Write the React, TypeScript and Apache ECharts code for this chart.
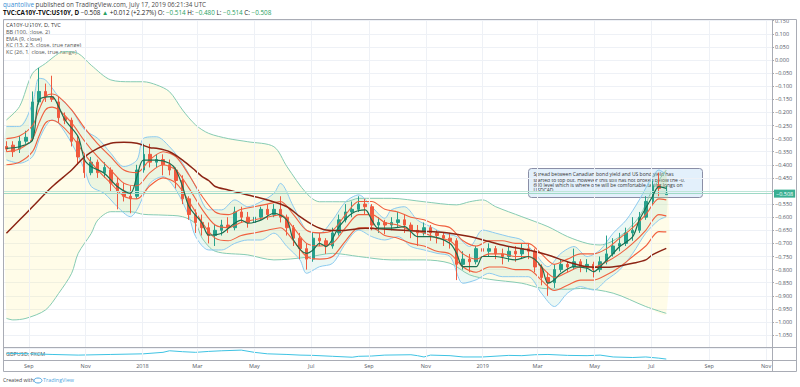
import React, { useEffect, useRef } from "react";
import * as echarts from "echarts";

// Weekly sample dates (last one is the final daily bar)
const weeks = [
  "2017-08-08","2017-08-15","2017-08-22","2017-08-29","2017-09-05","2017-09-12","2017-09-19","2017-09-26","2017-10-03","2017-10-10","2017-10-17","2017-10-24","2017-10-31","2017-11-07","2017-11-14","2017-11-21","2017-11-28","2017-12-05","2017-12-12","2017-12-19","2017-12-26",
  "2018-01-02","2018-01-09","2018-01-16","2018-01-23","2018-01-30","2018-02-06","2018-02-13","2018-02-20","2018-02-27","2018-03-06","2018-03-13","2018-03-20","2018-03-27","2018-04-03","2018-04-10","2018-04-17","2018-04-24","2018-05-01","2018-05-08","2018-05-15","2018-05-22","2018-05-29","2018-06-05","2018-06-12","2018-06-19","2018-06-26","2018-07-03","2018-07-10","2018-07-17","2018-07-24","2018-07-31","2018-08-07","2018-08-14","2018-08-21","2018-08-28","2018-09-04","2018-09-11","2018-09-18","2018-09-25","2018-10-02","2018-10-09","2018-10-16","2018-10-23","2018-10-30","2018-11-06","2018-11-13","2018-11-20","2018-11-27","2018-12-04","2018-12-11","2018-12-18","2018-12-25",
  "2019-01-01","2019-01-08","2019-01-15","2019-01-22","2019-01-29","2019-02-05","2019-02-12","2019-02-19","2019-02-26","2019-03-05","2019-03-12","2019-03-19","2019-03-26","2019-04-02","2019-04-09","2019-04-16","2019-04-23","2019-04-30","2019-05-07","2019-05-14","2019-05-21","2019-05-28","2019-06-04","2019-06-11","2019-06-18","2019-06-25","2019-07-02","2019-07-09","2019-07-17",
];

// [open, close, low, high]
const candles: number[][] = [
  [-0.33,-0.34,-0.35,-0.31],[-0.325,-0.35,-0.37,-0.31],[-0.34,-0.31,-0.355,-0.29],[-0.31,-0.295,-0.32,-0.27],[-0.30,-0.16,-0.31,-0.12],
  [-0.16,-0.12,-0.17,-0.03],[-0.12,-0.14,-0.16,-0.09],[-0.14,-0.15,-0.16,-0.06],[-0.16,-0.22,-0.24,-0.14],[-0.22,-0.23,-0.245,-0.20],
  [-0.23,-0.31,-0.33,-0.22],[-0.31,-0.37,-0.40,-0.29],[-0.37,-0.43,-0.45,-0.36],[-0.43,-0.39,-0.44,-0.37],[-0.39,-0.43,-0.45,-0.38],
  [-0.43,-0.41,-0.45,-0.39],[-0.42,-0.47,-0.50,-0.41],[-0.47,-0.50,-0.57,-0.45],[-0.50,-0.52,-0.54,-0.47],[-0.52,-0.53,-0.585,-0.48],
  [-0.52,-0.42,-0.53,-0.40],[-0.42,-0.36,-0.43,-0.32],[-0.36,-0.39,-0.41,-0.32],[-0.39,-0.38,-0.41,-0.36],[-0.38,-0.40,-0.44,-0.36],
  [-0.40,-0.42,-0.44,-0.38],[-0.42,-0.46,-0.49,-0.41],[-0.46,-0.53,-0.55,-0.44],[-0.53,-0.59,-0.61,-0.52],[-0.59,-0.62,-0.66,-0.57],
  [-0.62,-0.64,-0.67,-0.59],[-0.64,-0.67,-0.70,-0.62],[-0.67,-0.65,-0.71,-0.63],[-0.65,-0.63,-0.67,-0.61],[-0.63,-0.64,-0.66,-0.60],
  [-0.64,-0.58,-0.65,-0.56],[-0.58,-0.60,-0.62,-0.56],[-0.60,-0.62,-0.64,-0.58],[-0.62,-0.60,-0.63,-0.57],[-0.60,-0.57,-0.61,-0.56],
  [-0.57,-0.59,-0.61,-0.55],[-0.59,-0.57,-0.60,-0.55],[-0.57,-0.60,-0.62,-0.52],[-0.60,-0.64,-0.67,-0.59],[-0.64,-0.68,-0.71,-0.63],
  [-0.68,-0.72,-0.76,-0.66],[-0.72,-0.76,-0.80,-0.70],[-0.76,-0.68,-0.77,-0.66],[-0.68,-0.69,-0.71,-0.66],[-0.69,-0.71,-0.74,-0.68],
  [-0.71,-0.66,-0.72,-0.64],[-0.66,-0.61,-0.67,-0.59],[-0.61,-0.58,-0.62,-0.55],[-0.58,-0.57,-0.60,-0.54],[-0.57,-0.55,-0.58,-0.52],
  [-0.55,-0.56,-0.59,-0.53],[-0.56,-0.63,-0.65,-0.55],[-0.63,-0.62,-0.66,-0.60],[-0.62,-0.63,-0.665,-0.61],[-0.63,-0.62,-0.65,-0.60],
  [-0.62,-0.61,-0.64,-0.58],[-0.61,-0.63,-0.66,-0.59],[-0.63,-0.65,-0.68,-0.62],[-0.65,-0.66,-0.71,-0.63],[-0.66,-0.64,-0.67,-0.62],
  [-0.64,-0.66,-0.69,-0.63],[-0.66,-0.67,-0.70,-0.65],[-0.67,-0.68,-0.71,-0.66],[-0.68,-0.69,-0.72,-0.66],[-0.69,-0.78,-0.84,-0.68],
  [-0.78,-0.76,-0.80,-0.73],[-0.76,-0.77,-0.81,-0.74],[-0.77,-0.72,-0.78,-0.71],[-0.72,-0.73,-0.76,-0.70],[-0.73,-0.72,-0.75,-0.70],
  [-0.72,-0.74,-0.76,-0.71],[-0.74,-0.75,-0.78,-0.72],[-0.75,-0.73,-0.77,-0.71],[-0.73,-0.74,-0.77,-0.71],[-0.74,-0.72,-0.76,-0.70],
  [-0.72,-0.73,-0.76,-0.70],[-0.73,-0.79,-0.81,-0.72],[-0.79,-0.83,-0.86,-0.78],[-0.83,-0.85,-0.90,-0.81],[-0.85,-0.80,-0.87,-0.78],
  [-0.80,-0.78,-0.81,-0.76],[-0.78,-0.79,-0.81,-0.77],[-0.79,-0.77,-0.80,-0.72],[-0.77,-0.79,-0.81,-0.76],[-0.79,-0.78,-0.81,-0.76],
  [-0.78,-0.80,-0.83,-0.77],[-0.80,-0.77,-0.81,-0.75],[-0.77,-0.74,-0.78,-0.67],[-0.74,-0.71,-0.75,-0.68],[-0.71,-0.70,-0.73,-0.66],
  [-0.70,-0.66,-0.71,-0.64],[-0.66,-0.65,-0.69,-0.60],[-0.65,-0.60,-0.66,-0.58],[-0.60,-0.54,-0.61,-0.52],[-0.54,-0.48,-0.55,-0.46],
  [-0.48,-0.49,-0.52,-0.43],[-0.514,-0.508,-0.514,-0.48],
];

// Indicator knots: [week index, value]
const bbUpper: number[][] = [[0,-0.229],[2,-0.178],[4,-0.051],[6,-0.013],[8,0.025],[9,0.032],[11,0.025],[13,-0.02],[16,-0.076],[19,-0.083],[21,-0.083],[23,-0.095],[25,-0.121],[27,-0.191],[29,-0.248],[31,-0.280],[34,-0.300],[37,-0.312],[41,-0.331],[43,-0.407],[46,-0.509],[48,-0.541],[52,-0.541],[54,-0.528],[59,-0.528],[64,-0.541],[69,-0.553],[71,-0.541],[73,-0.534],[75,-0.560],[79,-0.598],[83,-0.636],[86,-0.674],[89,-0.700],[91,-0.706],[94,-0.674],[97,-0.598],[99,-0.496],[101,-0.42]];
const bbLower: number[][] = [[0,-0.986],[1,-0.992],[3,-0.986],[6,-0.954],[8,-0.891],[10,-0.814],[11,-0.738],[13,-0.662],[14,-0.611],[16,-0.579],[19,-0.579],[21,-0.589],[24,-0.592],[27,-0.598],[29,-0.625],[30,-0.68],[32,-0.73],[37,-0.744],[41,-0.763],[46,-0.753],[50,-0.738],[54,-0.750],[59,-0.763],[64,-0.763],[68,-0.776],[71,-0.820],[74,-0.837],[79,-0.852],[82,-0.871],[86,-0.875],[88,-0.872],[93,-0.89],[98,-0.941],[101,-0.967]];
const sma100: number[][] = [[0,-0.661],[2,-0.611],[4,-0.560],[7,-0.484],[10,-0.420],[12,-0.369],[14,-0.337],[16,-0.318],[18,-0.314],[20,-0.318],[22,-0.335],[23,-0.337],[25,-0.350],[27,-0.382],[29,-0.423],[30,-0.445],[31,-0.460],[32,-0.483],[34,-0.496],[37,-0.515],[40,-0.534],[43,-0.560],[45,-0.598],[47,-0.630],[49,-0.649],[51,-0.651],[55,-0.642],[60,-0.649],[65,-0.655],[68,-0.661],[71,-0.674],[74,-0.693],[77,-0.712],[80,-0.725],[83,-0.744],[86,-0.770],[89,-0.789],[92,-0.791],[94,-0.786],[96,-0.776],[98,-0.763],[99,-0.744],[101,-0.719]];
const ema9: number[][] = [[0,-0.337],[2,-0.331],[4,-0.305],[5,-0.153],[7,-0.140],[8,-0.178],[9,-0.229],[11,-0.293],[12,-0.382],[13,-0.407],[15,-0.432],[17,-0.483],[19,-0.509],[20,-0.445],[21,-0.382],[23,-0.382],[25,-0.394],[26,-0.420],[27,-0.483],[28,-0.560],[30,-0.623],[31,-0.668],[33,-0.661],[36,-0.611],[37,-0.623],[39,-0.611],[41,-0.585],[43,-0.611],[44,-0.687],[46,-0.738],[47,-0.725],[48,-0.700],[49,-0.712],[51,-0.636],[53,-0.585],[55,-0.572],[56,-0.611],[57,-0.642],[59,-0.642],[61,-0.636],[63,-0.674],[65,-0.674],[68,-0.700],[69,-0.738],[70,-0.789],[72,-0.789],[73,-0.750],[75,-0.750],[78,-0.763],[80,-0.750],[82,-0.789],[83,-0.852],[84,-0.839],[85,-0.814],[87,-0.789],[89,-0.795],[90,-0.808],[91,-0.789],[93,-0.738],[94,-0.712],[96,-0.674],[97,-0.611],[99,-0.522],[100,-0.483],[101,-0.490]];
const kc13Mid: number[][] = [[0,-0.35],[2,-0.34],[4,-0.30],[5,-0.24],[6,-0.19],[7,-0.18],[8,-0.19],[10,-0.24],[12,-0.31],[14,-0.37],[16,-0.42],[18,-0.47],[20,-0.48],[22,-0.43],[24,-0.40],[26,-0.42],[28,-0.49],[30,-0.57],[32,-0.63],[34,-0.64],[36,-0.62],[38,-0.61],[40,-0.60],[42,-0.59],[44,-0.64],[46,-0.70],[48,-0.71],[50,-0.70],[52,-0.64],[54,-0.59],[56,-0.59],[58,-0.62],[60,-0.63],[62,-0.65],[64,-0.66],[66,-0.68],[68,-0.69],[70,-0.74],[72,-0.76],[74,-0.74],[76,-0.74],[78,-0.75],[80,-0.75],[82,-0.79],[84,-0.83],[86,-0.81],[88,-0.79],[90,-0.79],[92,-0.77],[94,-0.74],[96,-0.70],[98,-0.65],[100,-0.59],[101,-0.595]];
const kc13Upper: number[][] = [[0,-0.30],[2,-0.29],[4,-0.25],[5,-0.19],[6,-0.14],[7,-0.13],[8,-0.14],[10,-0.19],[12,-0.26],[14,-0.32],[16,-0.37],[18,-0.42],[20,-0.43],[22,-0.38],[24,-0.35],[26,-0.37],[28,-0.44],[30,-0.52],[32,-0.58],[34,-0.59],[36,-0.57],[38,-0.56],[40,-0.55],[42,-0.54],[44,-0.59],[46,-0.65],[48,-0.66],[50,-0.65],[52,-0.59],[54,-0.54],[56,-0.54],[58,-0.57],[60,-0.58],[62,-0.60],[64,-0.61],[66,-0.63],[68,-0.64],[70,-0.69],[72,-0.71],[74,-0.69],[76,-0.69],[78,-0.70],[80,-0.70],[82,-0.74],[84,-0.78],[86,-0.76],[88,-0.74],[90,-0.74],[92,-0.72],[94,-0.68],[96,-0.64],[98,-0.59],[100,-0.53],[101,-0.534]];
const kc13Lower: number[][] = [[0,-0.40],[2,-0.39],[4,-0.35],[5,-0.29],[6,-0.24],[7,-0.23],[8,-0.24],[10,-0.29],[12,-0.36],[14,-0.42],[16,-0.47],[18,-0.52],[20,-0.53],[22,-0.48],[24,-0.45],[26,-0.47],[28,-0.54],[30,-0.62],[32,-0.68],[34,-0.69],[36,-0.67],[38,-0.66],[40,-0.65],[42,-0.64],[44,-0.69],[46,-0.75],[48,-0.76],[50,-0.75],[52,-0.69],[54,-0.64],[56,-0.64],[58,-0.67],[60,-0.68],[62,-0.70],[64,-0.71],[66,-0.73],[68,-0.74],[70,-0.79],[72,-0.81],[74,-0.79],[76,-0.79],[78,-0.80],[80,-0.80],[82,-0.84],[84,-0.88],[86,-0.86],[88,-0.84],[90,-0.84],[92,-0.82],[94,-0.79],[96,-0.75],[98,-0.71],[100,-0.655],[101,-0.656]];
const kc26Upper: number[][] = [[0,-0.254],[2,-0.254],[4,-0.165],[5,-0.07],[6,-0.076],[8,-0.140],[10,-0.191],[12,-0.267],[14,-0.299],[16,-0.356],[18,-0.407],[20,-0.382],[21,-0.299],[23,-0.293],[25,-0.331],[27,-0.394],[29,-0.483],[31,-0.572],[33,-0.572],[35,-0.534],[37,-0.560],[39,-0.541],[41,-0.509],[42,-0.471],[44,-0.560],[46,-0.649],[48,-0.661],[50,-0.611],[52,-0.541],[54,-0.515],[56,-0.560],[58,-0.604],[59,-0.572],[61,-0.560],[63,-0.611],[65,-0.636],[67,-0.661],[69,-0.674],[71,-0.712],[73,-0.649],[75,-0.661],[77,-0.674],[79,-0.687],[81,-0.738],[83,-0.789],[85,-0.738],[87,-0.712],[89,-0.750],[91,-0.725],[93,-0.661],[95,-0.611],[97,-0.534],[99,-0.445],[100,-0.420],[101,-0.439]];
const kc26Lower: number[][] = [[0,-0.381],[2,-0.394],[4,-0.369],[5,-0.305],[6,-0.254],[7,-0.229],[8,-0.242],[10,-0.318],[12,-0.420],[13,-0.483],[15,-0.509],[17,-0.560],[19,-0.598],[20,-0.572],[22,-0.471],[24,-0.445],[26,-0.496],[28,-0.598],[29,-0.674],[31,-0.725],[33,-0.725],[35,-0.700],[37,-0.687],[39,-0.687],[41,-0.661],[43,-0.712],[45,-0.763],[46,-0.814],[48,-0.789],[50,-0.776],[52,-0.700],[54,-0.649],[56,-0.674],[58,-0.687],[60,-0.674],[62,-0.712],[64,-0.725],[66,-0.738],[68,-0.750],[70,-0.852],[72,-0.839],[74,-0.814],[76,-0.827],[78,-0.827],[80,-0.827],[82,-0.890],[84,-0.941],[86,-0.890],[88,-0.865],[90,-0.878],[92,-0.839],[94,-0.801],[96,-0.738],[98,-0.661],[100,-0.611],[101,-0.598]];
const gbpusd: number[][] = [[0,1.369],[4,1.357],[7,1.343],[11,1.329],[16,1.343],[21,1.357],[24,1.389],[25,1.423],[27,1.403],[29,1.389],[31,1.409],[33,1.423],[36,1.437],[38,1.389],[40,1.357],[43,1.343],[45,1.329],[47,1.323],[50,1.303],[53,1.283],[54,1.303],[56,1.309],[58,1.329],[62,1.337],[63,1.317],[64,1.289],[65,1.329],[68,1.317],[70,1.289],[73,1.289],[77,1.323],[79,1.317],[81,1.337],[83,1.343],[86,1.323],[89,1.317],[91,1.329],[93,1.289],[96,1.277],[98,1.289],[100,1.263],[101,1.243]];

const monthTicks = ["2017-09-01","2017-11-01","2018-01-01","2018-03-01","2018-05-01","2018-07-01","2018-09-01","2018-11-01","2019-01-01","2019-03-01","2019-05-01","2019-07-01","2019-09-01","2019-11-01"];
const monthLabels = ["Sep","Nov","2018","Mar","May","Jul","Sep","Nov","2019","Mar","May","Jul","Sep","Nov"];
const lastPrice = -0.508;
const hiddenTick = -0.5; // axis label hidden behind the last-price label
const lastGbp = "1.24291";

const FONT = "'Open Sans', 'Noto Sans', sans-serif";
const toTime = (s: string) => echarts.time.parse(s).getTime();
const knots = (arr: number[][]) => arr.map(([i, v]) => [weeks[i], v]);
const fmt = (v: number) => (v < -1e-9 ? "\u2212" : "") + Math.abs(v).toFixed(3);

function band(upper: number[][], lower: number[][], fill: string, z: number) {
  return {
    type: "custom",
    xAxisIndex: 0,
    yAxisIndex: 0,
    silent: true,
    z,
    data: [[toTime(weeks[0]), -0.5]],
    renderItem: (_p: any, api: any) => {
      const pts = [
        ...upper.map(([i, v]) => api.coord([toTime(weeks[i]), v])),
        ...lower.slice().reverse().map(([i, v]) => api.coord([toTime(weeks[i]), v])),
      ];
      return { type: "polygon", shape: { points: pts, smooth: 0.3 }, style: { fill, stroke: "none" } };
    },
  };
}

function line(name: string, arr: number[][], color: string, width: number, z: number, smooth = 0.3) {
  return {
    name,
    type: "line",
    xAxisIndex: 0,
    yAxisIndex: 0,
    data: knots(arr),
    showSymbol: false,
    symbol: "none",
    smooth,
    silent: true,
    z,
    lineStyle: { color, width },
  };
}

export default function App() {
  const ref = useRef<HTMLDivElement>(null);
  useEffect(() => {
    const chart = echarts.init(ref.current!, null, { renderer: "svg" });
    const xMin = toTime("2017-08-05 10:00");
    const xMax = toTime("2019-11-07 10:00");
    const option: any = {
      animation: false,
      backgroundColor: "#ffffff",
      textStyle: { fontFamily: FONT },
      grid: [
        { left: 4, right: 28, top: 20.7, height: 327.5 },
        { left: 4, right: 28, top: 348, height: 12 },
      ],
      xAxis: [
        { type: "time", gridIndex: 0, min: xMin, max: xMax, axisLine: { show: false }, axisTick: { show: false }, axisLabel: { show: false }, splitLine: { show: false } },
        { type: "time", gridIndex: 1, min: xMin, max: xMax, axisLine: { show: false }, axisTick: { show: false }, axisLabel: { show: false }, splitLine: { show: false } },
      ],
      yAxis: [
        {
          type: "value", gridIndex: 0, position: "right", min: -1.1, max: 0.15, interval: 0.05,
          axisLine: { show: true, lineStyle: { color: "#a3a6af" } },
          axisTick: { show: true, length: 2, lineStyle: { color: "#a3a6af" } },
          axisLabel: {
            formatter: (v: number) => (Math.abs(v - hiddenTick) < 1e-6 ? "" : fmt(v)),
            fontSize: 5.5, color: "#4c525e", margin: 3, showMinLabel: false, fontFamily: FONT,
          },
          splitLine: { show: true, lineStyle: { color: "#eef1f6", width: 1 } },
        },
        { type: "value", gridIndex: 1, position: "right", min: 1.223, max: 1.483, axisLine: { show: false }, axisTick: { show: false }, axisLabel: { show: false }, splitLine: { show: false } },
      ],
      series: [
        {
          type: "line", xAxisIndex: 0, yAxisIndex: 0, data: [[weeks[0], -2]], symbol: "none", silent: true, z: 0,
          lineStyle: { width: 0 },
          markLine: {
            symbol: "none", silent: true, label: { show: false },
            lineStyle: { color: "#eef1f6", width: 1, type: "solid" },
            data: monthTicks.map((t) => ({ xAxis: t })),
          },
        },
        band(bbUpper, bbLower, "rgba(255,238,110,0.16)", 1),
        band(kc26Upper, kc26Lower, "rgba(110,200,170,0.13)", 1),
        line("BB upper", bbUpper, "#86cbb3", 1, 2),
        line("BB lower", bbLower, "#86cbb3", 1, 2),
        line("KC26 upper", kc26Upper, "#8ccaf0", 1, 2),
        line("KC26 lower", kc26Lower, "#8ccaf0", 1, 2),
        {
          type: "candlestick", xAxisIndex: 0, yAxisIndex: 0, z: 3, silent: true, barWidth: 3,
          encode: { x: 0, y: [1, 2, 3, 4] },
          data: weeks.map((d, i) => [d, ...candles[i]]),
          itemStyle: { color: "#26a08c", color0: "#ef5a3f", borderColor: "#26a08c", borderColor0: "#ef5a3f", borderWidth: 1 },
          markLine: {
            symbol: "none", silent: true,
            data: [
              { yAxis: -0.503, lineStyle: { color: "#bfe6d8", width: 1, type: "solid" }, label: { show: false } },
              {
                yAxis: lastPrice, lineStyle: { color: "#9fd9c6", width: 1, type: "solid" },
                label: { show: true, position: "end", distance: 2, formatter: fmt(lastPrice), color: "#fff", backgroundColor: "#3aaf93", padding: [1, 2], fontSize: 5.5, fontFamily: FONT },
              },
            ],
          },
        },
        line("KC13 upper", kc13Upper, "#f0603f", 1.1, 4),
        line("KC13 mid", kc13Mid, "#f0603f", 1.1, 4),
        line("KC13 lower", kc13Lower, "#f0603f", 1.1, 4),
        line("SMA100", sma100, "#8c2414", 1.5, 4),
        line("EMA9", ema9, "#1a6e50", 1.2, 5),
        {
          name: "GBPUSD", type: "line", xAxisIndex: 1, yAxisIndex: 1, data: knots(gbpusd), showSymbol: false, symbol: "none", silent: true,
          lineStyle: { color: "#3fc3e3", width: 1 },
          markLine: {
            symbol: "none", silent: true,
            data: [
              ...monthTicks.map((t, k) => ({
                xAxis: t,
                lineStyle: { color: "#eef1f6", width: 1, type: "solid" },
                label: { show: true, position: "start", distance: 3, formatter: monthLabels[k], color: "#555a66", fontSize: 5.5, fontFamily: FONT },
              })),
              {
                yAxis: gbpusd[gbpusd.length - 1][1], lineStyle: { opacity: 0 },
                label: { show: true, position: "end", distance: 2, formatter: lastGbp, color: "#0b3b4a", backgroundColor: "#3fc3e3", padding: [1, 2], fontSize: 5.5, fontFamily: FONT, offset: [0, -1.5] },
              },
            ],
          },
        },
      ],
      graphic: [
        // frame
        { type: "rect", silent: true, z: 100, shape: { x: 3.5, y: 19.5, width: 793, height: 352 }, style: { fill: "none", stroke: "#a9acb5", lineWidth: 1 } },
        { type: "line", silent: true, z: 100, shape: { x1: 3.5, y1: 347.5, x2: 796.5, y2: 347.5 }, style: { stroke: "#a9acb5", lineWidth: 1 } },
        { type: "line", silent: true, z: 100, shape: { x1: 3.5, y1: 360.5, x2: 796.5, y2: 360.5 }, style: { stroke: "#a9acb5", lineWidth: 1 } },
        { type: "line", silent: true, z: 100, shape: { x1: 772.5, y1: 19.5, x2: 772.5, y2: 371.5 }, style: { stroke: "#a9acb5", lineWidth: 1 } },
        // header
        {
          type: "text", left: 3, top: 1, silent: true,
          style: { text: "{u|quantolive} published on TradingView.com, July 17, 2019 06:21:34 UTC", fill: "#4a4a4a", fontSize: 6.3, fontFamily: FONT, rich: { u: { fill: "#3b8fd4", fontSize: 6.3, fontFamily: FONT } } },
        },
        {
          type: "text", left: 3, top: 9, silent: true,
          style: {
            text: "{b|TVC:CA10Y-TVC:US10Y, D} {k|\u22120.508} {g|\u25B2} {k|+0.012 (+2.27%)} {k|O:}{g| \u22120.514} {k|H:}{g| \u22120.480} {k|L:}{g| \u22120.514} {k|C:}{g| \u22120.508}",
            fontSize: 6.3, fontFamily: FONT,
            rich: {
              b: { fill: "#111", fontWeight: "bold", fontSize: 6.3, fontFamily: FONT },
              k: { fill: "#222", fontSize: 6.3, fontFamily: FONT },
              g: { fill: "#27a060", fontSize: 6.3, fontFamily: FONT },
            },
          },
        },
        // legend
        {
          type: "text", left: 6, top: 22, silent: true,
          style: {
            text: "{t|CA10Y-US10Y, D, TVC}\nBB (100, close, 2)\nEMA (9, close)\nKC (13, 2.5, close, true range)\nKC (26, 1, close, true range)",
            fill: "#555", fontSize: 5.6, lineHeight: 6.6, fontFamily: FONT,
            rich: { t: { fill: "#333", fontSize: 5.6, lineHeight: 6.6, fontFamily: FONT } },
          },
        },
        { type: "text", left: 6, top: 351, silent: true, style: { text: "GBPUSD, FXCM", fill: "#555", fontSize: 5.5, fontFamily: FONT } },
        // annotation
        {
          type: "group", left: 528, top: 168, silent: true, z: 50,
          children: [
            { type: "rect", shape: { x: 0, y: 0, width: 174, height: 29, r: 3 }, style: { fill: "rgba(224,238,251,0.9)", stroke: "#8a8ea6", lineWidth: 1 } },
            {
              type: "text", x: 5, y: 3,
              style: {
                text: "Spread between Canadian bond yield and US bond yield has\nstarted to top out. However this still has not broken below the -0.\n600 level which is where one will be comfortable taking longs on\nUSDCAD",
                fill: "#333", fontSize: 5, lineHeight: 5.4, fontFamily: FONT,
              },
            },
          ],
        },
        // footer
        { type: "text", left: 3, top: 377, silent: true, style: { text: "Created with", fill: "#444", fontSize: 5.2, fontFamily: FONT } },
        { type: "ellipse", silent: true, shape: { cx: 38, cy: 380.5, rx: 4, ry: 2.5 }, style: { fill: "none", stroke: "#4fa6e0", lineWidth: 1 } },
        { type: "text", left: 43, top: 377, silent: true, style: { text: "TradingView", fill: "#4fa6e0", fontSize: 5.4, fontFamily: FONT } },
      ],
    };
    chart.setOption(option);
    return () => chart.dispose();
  }, []);
  return <div ref={ref} style={{ position: "fixed", left: 0, top: 0, width: 800, height: 387 }} />;
}
